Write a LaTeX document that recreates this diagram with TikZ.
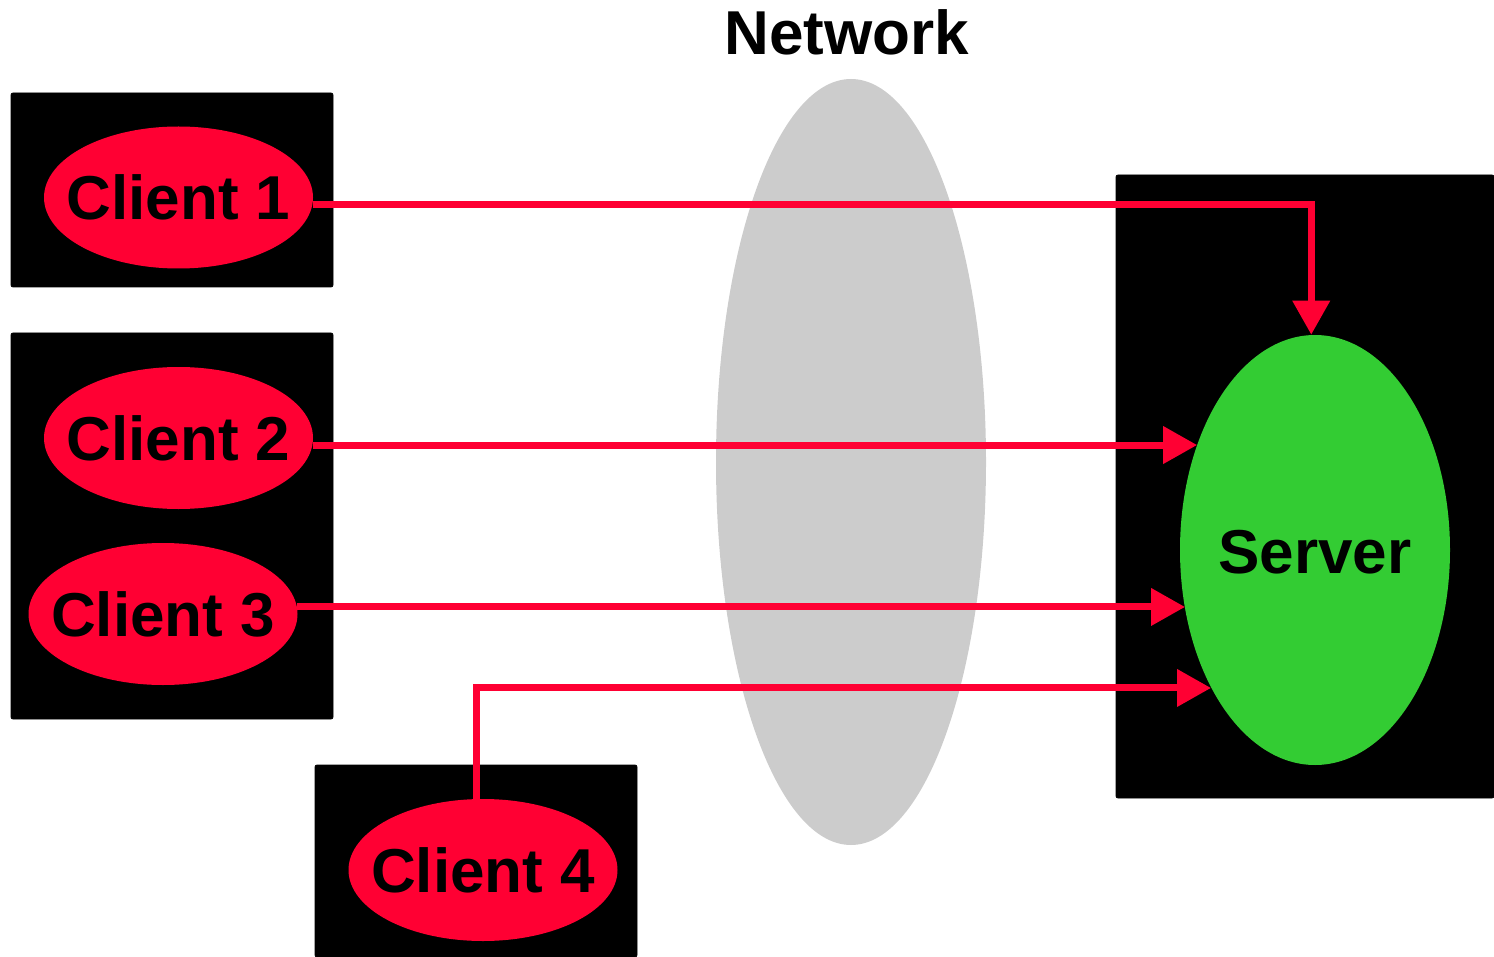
\documentclass[tikz,border=0pt]{standalone}
\usepackage{fontspec}
\setmainfont{Liberation Sans}
\usetikzlibrary{shapes.geometric,arrows.meta}
\definecolor{clientred}{HTML}{FF0033}
\definecolor{servergreen}{HTML}{33CC33}
\definecolor{netgray}{HTML}{CCCCCC}
\newcommand{\ctext}[1]{\makebox[0pt]{#1}}
\begin{document}
\begin{tikzpicture}[x=0.5pt,y=-0.5pt,
  hostbox/.style={fill=black,draw=black,rounded corners=1pt},
  client/.style={ellipse,fill=clientred,inner sep=0pt,
    minimum width=134.5pt,minimum height=71pt,
    font=\fontsize{31}{31}\selectfont\bfseries},
  link/.style={draw=clientred,line width=3.5pt,
    -{Triangle[length=17pt,width=18pt]}}]
\useasboundingbox (0,0) rectangle (1494,957);

% host boxes
\fill[hostbox] (11,93) rectangle (333,287);
\fill[hostbox] (11,333) rectangle (333,719);
\fill[hostbox] (315,765) rectangle (637,957);
\fill[hostbox] (1116,175) rectangle (1494,798);

% network cloud
\node[ellipse,fill=netgray,inner sep=0pt,minimum width=135pt,minimum height=383pt]
  (net) at (851,462) {};
\node[font=\fontsize{31}{31}\selectfont\bfseries] (netlabel) at (847,32) {Network};

% clients and server
\node[client] (c1) at (178.5,197.5) {\ctext{Client 1}};
\node[client] (c2) at (178.5,438) {\ctext{Client 2}};
\node[client] (c3) at (163,614) {\ctext{Client 3}};
\node[client] (c4) at (483,870) {\ctext{Client 4}};
\node[ellipse,fill=servergreen,inner sep=0pt,minimum width=135pt,minimum height=215pt]
  (srv) at (1315,550) {};
\node[font=\fontsize{31}{31}\selectfont\bfseries] (srvlabel) at (1315,552) {Server};

% connections
\draw[link] (c1.-3.6) -| (srv.91.9);
\draw[link] (c2.-3.4) -- (c2.-3.4 -| srv.138.7);
\draw[link] (c3.3.4) -- (c3.3.4 -| srv.-155);
\draw[link] (c4.95.1) |- (srv.-127.2);
\end{tikzpicture}
\end{document}
